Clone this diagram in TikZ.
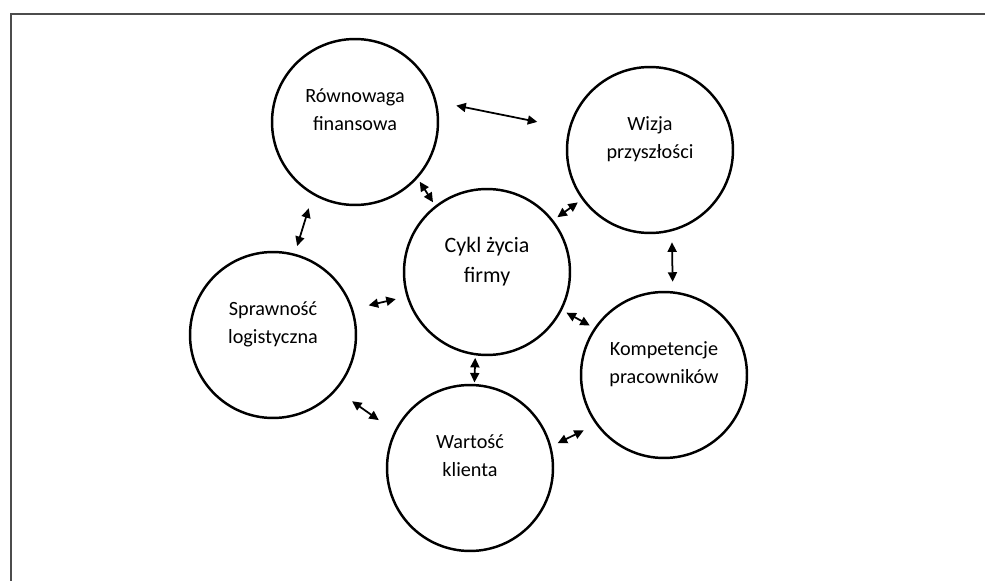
\documentclass[tikz,border=0pt]{standalone}
\usepackage{fontspec}
\setmainfont{Carlito}
\usepackage{tikz}
\usetikzlibrary{calc,arrows.meta}
\usetikzlibrary{positioning}

\begin{document}
\begin{tikzpicture}[x=0.02cm,y=-0.02cm,
  krag/.style={draw,circle,line width=1.4pt,minimum size=3.32cm,inner sep=0pt,
    align=center,text depth=0.5cm,text=black,font=\fontsize{11.5}{15.5}\selectfont},
  dwa/.style={{Triangle[length=0.19cm,width=0.18cm]}-{Triangle[length=0.19cm,width=0.18cm]},line width=1pt}]
\useasboundingbox (0,0) rectangle (985,581);
% ramka
\draw[line width=0.8pt,black!70] (11,581) -- (11,14) -- (985,14);
% kola
\node[krag](RF) at (355,122){Równowaga\\finansowa};
\node[krag](WP) at (650,150){Wizja\\przyszłości};
\node[krag,font=\fontsize{12.5}{17}\selectfont](CZ) at (487,272){Cykl życia\\firmy};
\node[krag](SL) at (273,335){Sprawność\\logistyczna};
\node[krag](KP) at (664,375){Kompetencje\\pracowników};
\node[krag](WK) at (470,468){Wartość\\klienta};
% strzalki
\draw[dwa,shorten <=0.4cm,shorten >=0.64cm] (RF.14) -- (WP.165);
\draw[dwa,shorten <=0.08cm,shorten >=0.08cm] (RF.-42) -- (CZ.128);
\draw[dwa,shorten <=0.1cm,shorten >=0.1cm] (CZ.38) -- (WP.216);
\draw[dwa,shorten <=0.28cm,shorten >=0.16cm] (RF.240) -- (SL.75);
\draw[dwa,shorten <=0.32cm,shorten >=0.22cm] (SL.18) -- (CZ.197);
\draw[dwa,shorten <=0.1cm,shorten >=0.1cm] (CZ.-27) -- (KP.146);
\draw[dwa,shorten <=0.22cm,shorten >=0.19cm] (WP.-75) -- (KP.84);
\draw[dwa,shorten <=0.05cm,shorten >=0.03cm] (CZ.262) -- (WK.87);
\draw[dwa,shorten <=0.38cm,shorten >=0.38cm] (SL.-41) -- (WK.154);
\draw[dwa,shorten <=0.14cm,shorten >=0.27cm] (WK.15) -- (KP.216);
\end{tikzpicture}
\end{document}
